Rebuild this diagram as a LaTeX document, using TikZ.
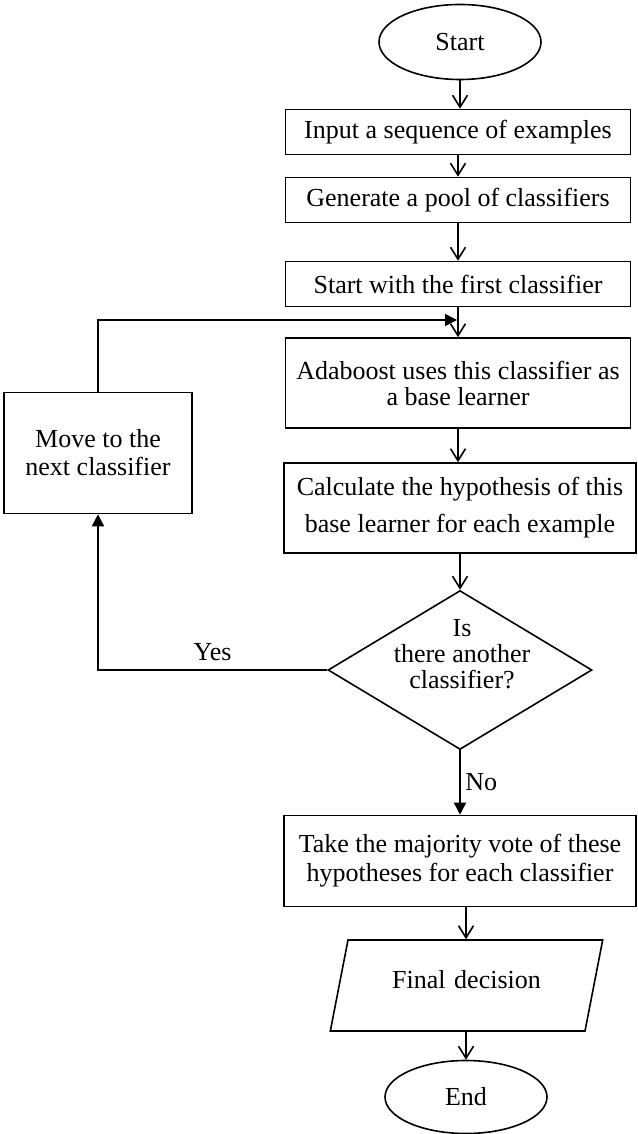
\documentclass[tikz,border=0pt]{standalone}
\usepackage{fontspec}
\setmainfont{Liberation Serif}
\usetikzlibrary{shapes.geometric, arrows.meta}
\tikzset{
    terminal/.style = {draw, ellipse, inner sep=0pt, minimum width=81pt, minimum height=37.5pt},
    process/.style = {draw, rectangle, align=center, inner sep=0pt, minimum width=172.5pt, minimum height=22.5pt},
    choice/.style = {draw, diamond, inner sep=0pt, minimum width=132pt, minimum height=79.5pt},
    output/.style = {draw, trapezium, trapezium left angle=79, trapezium right angle=101, align=center, text width=101.5pt, text height=9pt, text depth=6pt, inner xsep=8.5pt, inner ysep=15.25pt},
}
\tikzset{
    flow/.style = {draw, -{Straight Barb[length=6pt, width=7.5pt]}},
    loop/.style = {draw, -{Triangle[length=6pt, width=6pt]}},
}

\begin{document}
\begin{tikzpicture}[x=0.5pt, y=-0.5pt, line width=0.8pt, font=\fontsize{13}{14}\selectfont]
        \useasboundingbox (0, 0) rectangle (637, 1134);

        \node[terminal] (start) at (460, 42) {Start};

        \node[process] (input) at (458, 132) {Input a sequence of examples};
        \node[process] (pool) at (458, 200) {Generate a pool of classifiers};
        \node[process] (first) at (458, 284) {Start with the first classifier};
        \node[process, minimum height=45pt] (base) at (458, 383) {Adaboost uses this classifier as\\[-1pt]a base learner};
        \node[process, minimum width=176pt, minimum height=45pt] (hyp) at (460, 508) {Calculate the hypothesis of this\\[4.5pt]base learner for each example};

        \node[choice] (another) at (460, 670) {};
        \node[align=center, font=\fontsize{13}{13}\selectfont] (question) at (462, 654) {Is\\there another\\classifier?};

        \node[process, minimum width=94pt, minimum height=60.5pt] (next) at (98, 453) {Move to the\\next classifier};
        \coordinate (back) at (457, 320);

        \node[process, minimum width=176pt, minimum height=45.5pt] (vote) at (460, 861) {Take the majority vote of these\\[0.5pt]hypotheses for each classifier};
        \node[output] (final) at (466.5, 985.5) {Final decision};
        \node[terminal, minimum height=36.5pt] (stop) at (466, 1097) {End};

        \draw[flow] (start) -- (start |- input.north);
        \draw[flow] (input) -- (pool);
        \draw[flow] (pool) -- (first);
        \draw[flow] (first) -- (base);
        \draw[flow] (base) -- (base |- hyp.north);
        \draw[flow] (hyp) -- (another);
        \draw[loop] (another) -- (vote) node [midway, right=-1pt] {No};
        \draw[loop] (another.west) -| (next.south) node [pos=0.25, above=1pt] {Yes};
        \draw[loop] (next.north) |- (back);
        \draw[flow] (vote.south -| stop) -- (final.north -| stop);
        \draw[flow] (final.south -| stop) -- (stop);
    \end{tikzpicture}
\end{document}
